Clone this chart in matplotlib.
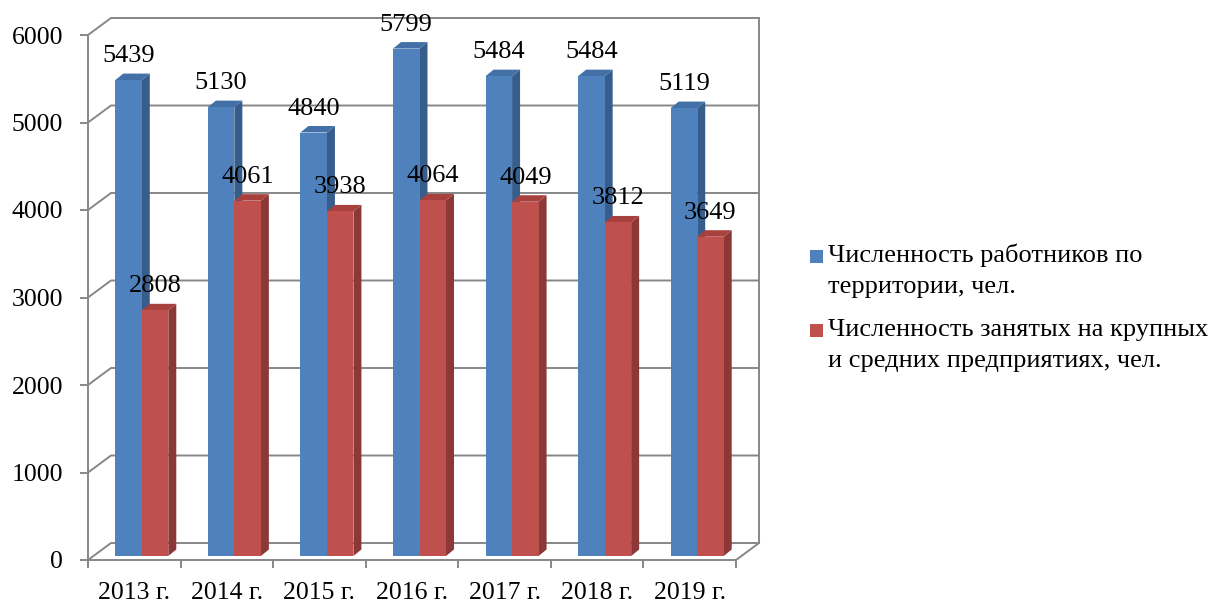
import matplotlib
matplotlib.use('Agg')
import matplotlib.pyplot as plt
from matplotlib.patches import Polygon, Rectangle
import numpy as np

# ---------------- data ----------------
years = ['2013 г.', '2014 г.', '2015 г.', '2016 г.', '2017 г.', '2018 г.', '2019 г.']
workers = [5439, 5130, 4840, 5799, 5484, 5484, 5119]
employed = [2808, 4061, 3938, 4064, 4049, 3812, 3649]
series_labels = ['Численность работников по\nтерритории, чел.',
                 'Численность занятых на крупных\nи средних предприятиях, чел.']
yticks = [0, 1000, 2000, 3000, 4000, 5000, 6000]

# ---------------- style ----------------
plt.rcParams['font.family'] = ['Liberation Serif', 'DejaVu Serif']
FS_LAB = 19
FS_Y = 18.5
FS_X = 18.5
LFS = 19
GRID = '#878787'
front_cols = ['#4F81BD', '#C0504D']
side_cols = ['#375D8C', '#8C3836']
top_cols = ['#4470A8', '#A8413E']

W, H = 1214, 603
L, R, T, B = 88, 736, 35, 560
fig = plt.figure(figsize=(W / 100, H / 100), dpi=100)
ax = fig.add_axes([L / W, 1 - B / H, (R - L) / W, (B - T) / H])
ax.set_facecolor('none')
n = len(years)
ymax = yticks[-1]
ax.set_xlim(-0.5, n - 0.5)
ax.set_ylim(0, ymax)
ux = (R - L) / n
uy = (B - T) / ymax


def dxu(p):
    return p / ux


def dyu(p):
    return p / uy


# wall / floor depth
gx, gy = dxu(23), dyu(17)
for yv in yticks:
    ax.plot([-0.5, -0.5 + gx, n - 0.5 + gx], [yv, yv + gy, yv + gy],
            color=GRID, lw=1.4, clip_on=False, zorder=0.5, solid_capstyle='butt')
ax.plot([n - 0.5 + gx, n - 0.5 + gx], [gy, ymax + gy], color=GRID, lw=1.4,
        clip_on=False, zorder=0.5)
ax.plot([n - 0.5, n - 0.5 + gx], [0, gy], color=GRID, lw=1.4, clip_on=False, zorder=0.5)

# bars
w = dxu(26.5)
sx, sy = dxu(7.5), dyu(4)
bx, by = dxu(8), dyu(6.5)
x = np.arange(n)
series = [workers, employed]
z = 2
for i in range(n):
    for s, vals in enumerate(series):
        v = vals[i]
        x0 = x[i] - w + s * w + sx
        x1 = x0 + w
        y0, y1 = sy, sy + v
        ax.add_patch(Polygon([(x1, y0), (x1, y1), (x1 + bx, y1 + by), (x1 + bx, y0 + by)],
                             closed=True, facecolor=side_cols[s], edgecolor='none',
                             clip_on=False, zorder=z))
        ax.add_patch(Polygon([(x0, y1), (x1, y1), (x1 + bx, y1 + by), (x0 + bx, y1 + by)],
                             closed=True, facecolor=top_cols[s], edgecolor='none',
                             clip_on=False, zorder=z))
        ax.bar(x0, v, width=w, bottom=sy, align='edge', color=front_cols[s],
               edgecolor='none', zorder=z + 0.1, clip_on=False)
        z += 0.2

for s, vals in enumerate(series):
    for i, v in enumerate(vals):
        xc = x[i] - w / 2 + s * w + sx
        ax.text(xc, v + sy + dyu(18), str(v), ha='center', va='baseline',
                fontsize=FS_LAB, zorder=20, clip_on=False)

# axes
for sp in ['top', 'right']:
    ax.spines[sp].set_visible(False)
for sp in ['left', 'bottom']:
    ax.spines[sp].set_color(GRID)
    ax.spines[sp].set_linewidth(1.4)
    ax.spines[sp].set_zorder(0.6)

ax.set_yticks(yticks)
ax.set_yticklabels([str(t) for t in yticks])
ax.tick_params(axis='y', length=5.8, width=1.4, color=GRID, pad=12, labelsize=FS_Y)

ax.set_xticks(np.arange(n + 1) - 0.5)
ax.set_xticklabels([])
ax.set_xticks(x, minor=True)
ax.set_xticklabels(years, minor=True)
ax.tick_params(axis='x', which='major', length=5.8, width=1.4, color=GRID)
ax.tick_params(axis='x', which='minor', length=0, pad=16, labelsize=FS_X)

# legend (manual)
entries_y = [262, 336]
sq_cy = [256, 330]
for s, lab in enumerate(series_labels):
    fig.patches.append(Rectangle((810 / W, 1 - (sq_cy[s] + 6.5) / H), 13 / W, 13 / H,
                                 transform=fig.transFigure, facecolor=front_cols[s],
                                 edgecolor='none'))
    for k, line in enumerate(lab.split('\n')):
        fig.text(828 / W, 1 - (entries_y[s] + 31 * k) / H, line, fontsize=LFS,
                 ha='left', va='baseline')

fig.savefig('out.png', dpi=100)
